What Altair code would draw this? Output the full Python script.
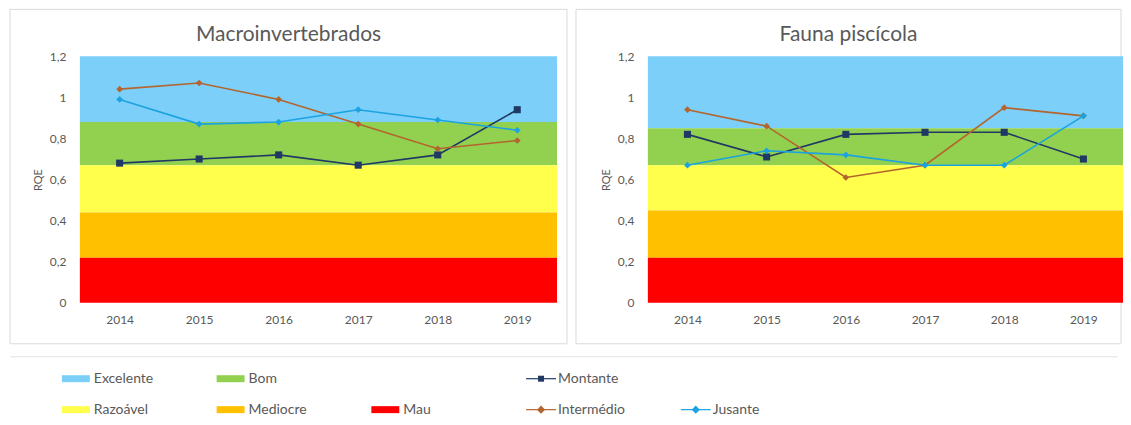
import altair as alt
import pandas as pd

# ---------------- data ----------------
years = ["2014", "2015", "2016", "2017", "2018", "2019"]
stations = ["Montante", "Intermédio", "Jusante"]

panel_titles = ["Macroinvertebrados", "Fauna piscícola"]

macro_montante = [0.68, 0.70, 0.72, 0.67, 0.72, 0.94]
macro_intermedio = [1.04, 1.07, 0.99, 0.87, 0.75, 0.79]
macro_jusante = [0.99, 0.87, 0.88, 0.94, 0.89, 0.84]

fish_montante = [0.82, 0.71, 0.82, 0.83, 0.83, 0.70]
fish_intermedio = [0.94, 0.86, 0.61, 0.67, 0.95, 0.91]
fish_jusante = [0.67, 0.74, 0.72, 0.67, 0.67, 0.91]

classes = ["Excelente", "Bom", "Razoável", "Mediocre", "Mau"]
class_colors = ["#7CCFF8", "#92D050", "#FFFF4C", "#FFC000", "#FF0000"]
macro_lo = [0.88, 0.67, 0.44, 0.22, 0.0]
macro_hi = [1.2, 0.88, 0.67, 0.44, 0.22]
fish_lo = [0.85, 0.67, 0.45, 0.22, 0.0]
fish_hi = [1.2, 0.85, 0.67, 0.45, 0.22]

station_colors = ["#203864", "#B4642D", "#1AA3E0"]
station_shapes = ["square", "diamond", "diamond"]
station_sizes = [50, 45, 45]

y_ticks = [0, 0.2, 0.4, 0.6, 0.8, 1, 1.2]

legend_labels = ["Excelente", "Bom", "Razoável", "Mediocre", "Mau",
                 "Montante", "Intermédio", "Jusante"]
legend_kind = ["band", "band", "band", "band", "band", "line", "line", "line"]
legend_col = [0, 1, 0, 1, 2, 3, 3, 4]
legend_row = [0, 0, 1, 1, 1, 0, 1, 1]

FONT = "Lato"
TXT = "#595959"

W_L, W_R, H = 478, 476, 247


def panel(title, series, lo, hi, w, rect_x1, rect_x2):
    rows = []
    for st, vals in zip(stations, series):
        for yr, v in zip(years, vals):
            rows.append({"year": yr, "station": st, "value": v})
    df = pd.DataFrame(rows)
    bands = pd.DataFrame({"cls": classes, "lo": lo, "hi": hi})

    y_scale = alt.Scale(domain=[0, 1.2], nice=False, zero=True)
    y_axis = alt.Axis(values=y_ticks, title="RQE", grid=False, ticks=False,
                      domain=False, labelPadding=14, titlePadding=6,
                      labelExpr="replace(format(datum.value, '~g'), '.', ',')",
                      labelColor=TXT, titleColor=TXT, labelFont=FONT,
                      titleFont=FONT, labelFontSize=12, titleFontSize=11,
                      titleFontWeight="normal", zindex=1)
    x_axis = alt.Axis(title=None, labelAngle=0, ticks=False, domain=False,
                      grid=False, labelPadding=12, labelColor=TXT,
                      labelFont=FONT, labelFontSize=12, zindex=1)

    frame = alt.Chart(pd.DataFrame({"t": [title]})).mark_rect(
        fillOpacity=0, stroke="#d9d9d9", strokeWidth=1
    ).encode(x=alt.value(rect_x1), x2=alt.value(rect_x2),
             y=alt.value(-47), y2=alt.value(H + 41))

    band_layer = alt.Chart(bands).mark_rect().encode(
        y=alt.Y("lo:Q", scale=y_scale, axis=y_axis),
        y2="hi:Q",
        color=alt.Color("cls:N", scale=alt.Scale(domain=classes, range=class_colors),
                        legend=None),
    )

    layers = [frame, band_layer]
    for st, col, shp, sz in zip(stations, station_colors, station_shapes, station_sizes):
        base = alt.Chart(df).transform_filter(alt.datum.station == st)
        x_enc = alt.X("year:O", sort=years, axis=x_axis)
        y_enc = alt.Y("value:Q", scale=y_scale)
        line = base.mark_line(strokeWidth=1.6, color=col).encode(x=x_enc, y=y_enc)
        pts = base.mark_point(filled=True, opacity=1, size=sz, shape=shp,
                              color=col).encode(x=x_enc, y=y_enc)
        layers += [line, pts]

    ttl = alt.Chart(pd.DataFrame({"t": [title]})).mark_text(
        font=FONT, fontSize=21, color=TXT, align="center", baseline="alphabetic"
    ).encode(text="t:N", x=alt.value((rect_x1 + rect_x2) / 2), y=alt.value(-15))
    layers.append(ttl)

    return alt.layer(*layers).properties(width=w, height=H)


left = panel(panel_titles[0], [macro_montante, macro_intermedio, macro_jusante],
             macro_lo, macro_hi, W_L, -70, W_L + 10)
right = panel(panel_titles[1], [fish_montante, fish_intermedio, fish_jusante],
              fish_lo, fish_hi, W_R, -72, W_R - 2)

top = alt.hconcat(left, right, spacing=7)

# ---------------- legend ----------------
leg = pd.DataFrame({"label": legend_labels, "kind": legend_kind,
                    "col": legend_col, "row": legend_row})
LW, LH = 1040, 50
lx = alt.X("col:Q", scale=alt.Scale(domain=[0, 4], range=[-18, 602]), axis=None)
ly = alt.Y("row:Q", scale=alt.Scale(domain=[0, 1], range=[22, 53]), axis=None)
leg_color = alt.Color("label:N",
                      scale=alt.Scale(domain=classes + stations,
                                      range=class_colors + station_colors),
                      legend=None)

leg_base = alt.Chart(leg)
top_line = alt.Chart(pd.DataFrame({"t": [0]})).mark_rule(
    color="#e3e3e3", strokeWidth=1
).encode(x=alt.value(-70), x2=alt.value(LW), y=alt.value(0))

swatch = leg_base.transform_filter(alt.datum.kind == "band").mark_point(
    shape="M0,-0.25H2V0.25H0Z", filled=True, opacity=1, size=784, strokeWidth=0
).encode(x=lx, y=ly, color=leg_color)

gl_line = leg_base.transform_filter(alt.datum.kind == "line").mark_point(
    shape="M0,0H2", filled=False, opacity=1, size=900, strokeWidth=1.2
).encode(x=lx, y=ly, color=leg_color)

gl_sq = leg_base.transform_filter(alt.datum.label == "Montante").mark_point(
    shape="M0.8,-0.2H1.2V0.2H0.8Z", filled=True, opacity=1, size=900, strokeWidth=0
).encode(x=lx, y=ly, color=leg_color)

gl_dm = leg_base.transform_filter(
    (alt.datum.kind == "line") & (alt.datum.label != "Montante")
).mark_point(
    shape="M1,-0.27L1.27,0L1,0.27L0.73,0Z", filled=True, opacity=1, size=900,
    strokeWidth=0
).encode(x=lx, y=ly, color=leg_color)

leg_text = leg_base.mark_text(
    font=FONT, fontSize=14, color=TXT, align="left", baseline="middle", dx=32
).encode(x=lx, y=ly, text="label:N")

legend_chart = alt.layer(top_line, swatch, gl_line, gl_sq, gl_dm, leg_text).properties(
    width=LW, height=LH
)

chart = alt.vconcat(top, legend_chart, spacing=11).resolve_scale(
    color="independent"
).properties(
    padding={"left": 1, "top": 0, "right": 0, "bottom": 0},
    background="white",
).configure_view(stroke=None).configure_text(font=FONT)

chart.save("out.html", embed_options={"renderer": "svg", "actions": False})
